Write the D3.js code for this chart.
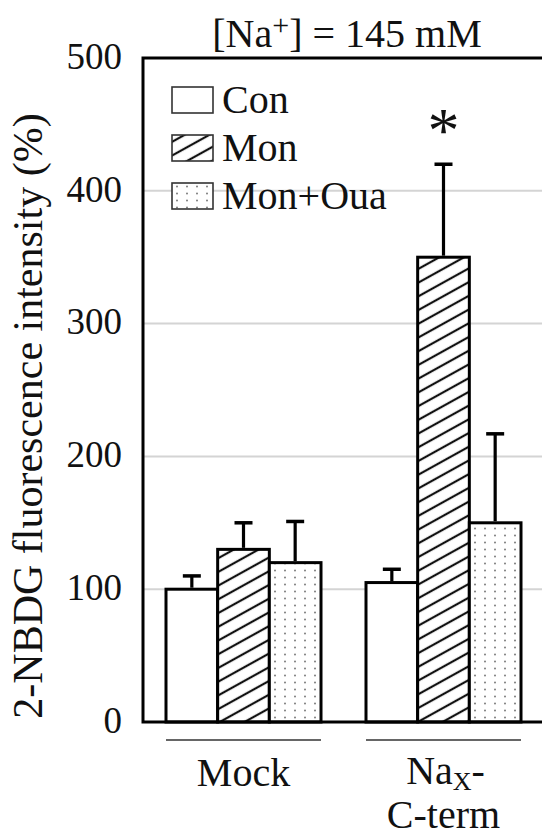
<!DOCTYPE html>
<html>
<head>
<meta charset="utf-8">
<script src="https://cdn.jsdelivr.net/npm/d3@7"></script>
<style>
  body { margin: 0; background: #fff; }
  svg text { font-family: "Liberation Serif", "DejaVu Serif", serif !important; fill: #111; }
</style>
</head>
<body>
<div id="chart"></div>
<script>
// DATA
var groups = ["Mock", "Nax-C-term"];
var series = ["Con", "Mon", "Mon+Oua"];
var means = [
  [100, 130, 120],   // Mock
  [105, 350, 150]    // Nax-C-term
];
var errors = [
  [10, 20, 31],
  [10, 70, 67]
];
var yTicks = [0, 100, 200, 300, 400, 500];

// DIMENSIONS
// (don't call these top/left - window.top is read only)
var W = 542, H = 836;
var plotL = 143, plotT = 58, plotB = 722, plotR = 543.5;
var serif = "'Liberation Serif', 'DejaVu Serif', serif";

var svg = d3.select("#chart").append("svg")
  .attr("width", W)
  .attr("height", H)
  .attr("font-family", serif);

// PATTERNS
var defs = svg.append("defs");
var hatch = defs.append("pattern")
  .attr("id", "hatch")
  .attr("patternUnits", "userSpaceOnUse")
  .attr("width", 12).attr("height", 12)
  .attr("patternTransform", "rotate(-29)");
hatch.append("rect").attr("width", 12).attr("height", 12).attr("fill", "#fff");
hatch.append("line")
  .attr("x1", 0).attr("x2", 12).attr("y1", 6).attr("y2", 6)
  .attr("stroke", "#111").attr("stroke-width", 2.2);

var dots = defs.append("pattern")
  .attr("id", "dots")
  .attr("patternUnits", "userSpaceOnUse")
  .attr("width", 10).attr("height", 7);
dots.append("rect").attr("width", 10).attr("height", 7).attr("fill", "#fff");
dots.append("circle").attr("cx", 5).attr("cy", 3.5).attr("r", 0.95).attr("fill", "#777");

var fills = { "Con": "#fff", "Mon": "url(#hatch)", "Mon+Oua": "url(#dots)" };

// SCALES
var y = d3.scaleLinear().domain([0, 500]).range([plotB, plotT]);

var x0 = d3.scaleBand()
  .domain(groups)
  .range([plotL + 0.5, plotR])
  .paddingInner(0.225)
  .paddingOuter(0.1125);

var x1 = d3.scaleBand()
  .domain(series)
  .range([0, x0.bandwidth()]);

// GRIDLINES
svg.append("g")
  .selectAll("line")
  .data(yTicks.filter(function(d) { return d > 0 && d < 500; }))
  .enter().append("line")
    .attr("x1", plotL).attr("x2", W)
    .attr("y1", function(d) { return y(d); })
    .attr("y2", function(d) { return y(d); })
    .attr("stroke", "#d4d4d4")
    .attr("stroke-width", 2);

// Y AXIS labels
var yAxis = d3.axisLeft(y)
  .tickValues(yTicks)
  .tickSize(0)
  .tickPadding(21);

var ya = svg.append("g")
  .attr("transform", "translate(" + plotL + ",0)")
  .call(yAxis)
  .attr("font-family", serif)
  .attr("font-size", 37);
ya.select(".domain").remove();
ya.selectAll("text")
  .attr("fill", "#111")
  .attr("dy", "0.28em");

// BARS
var rows = [];
groups.forEach(function(g, gi) {
  series.forEach(function(s, si) {
    rows.push({ group: g, series: s, value: means[gi][si], err: errors[gi][si] });
  });
});

var bars = svg.append("g");
bars.selectAll("rect")
  .data(rows)
  .enter().append("rect")
    .attr("x", function(d) { return x0(d.group) + x1(d.series); })
    .attr("y", function(d) { return y(d.value); })
    .attr("width", x1.bandwidth())
    .attr("height", function(d) { return y(0) - y(d.value); })
    .attr("fill", function(d) { return fills[d.series]; })
    .attr("stroke", "#000")
    .attr("stroke-width", 3);

// ERROR BARS (upper only)
var capW = 18;
var eb = svg.append("g").selectAll("g")
  .data(rows)
  .enter().append("g");
eb.append("line")
  .attr("x1", function(d) { return x0(d.group) + x1(d.series) + x1.bandwidth() / 2; })
  .attr("x2", function(d) { return x0(d.group) + x1(d.series) + x1.bandwidth() / 2; })
  .attr("y1", function(d) { return y(d.value) - 1.5; })
  .attr("y2", function(d) { return y(d.value + d.err); })
  .attr("stroke", "#000").attr("stroke-width", 3.2);
eb.append("line")
  .attr("x1", function(d) { return x0(d.group) + x1(d.series) + x1.bandwidth() / 2 - capW / 2; })
  .attr("x2", function(d) { return x0(d.group) + x1(d.series) + x1.bandwidth() / 2 + capW / 2; })
  .attr("y1", function(d) { return y(d.value + d.err); })
  .attr("y2", function(d) { return y(d.value + d.err); })
  .attr("stroke", "#000").attr("stroke-width", 3.5);

// FRAME
svg.append("path")
  .attr("d", "M" + W + "," + plotT + "H" + plotL + "V" + plotB + "H" + W)
  .attr("fill", "none")
  .attr("stroke", "#000")
  .attr("stroke-width", 3);

// SIGNIFICANCE
var sig = rows[4];
svg.append("text")
  .attr("x", x0(sig.group) + x1(sig.series) + x1.bandwidth() / 2)
  .attr("y", y(sig.value + sig.err) - 12)
  .attr("text-anchor", "middle")
  .attr("font-size", 64)
  .text("*");

// CATEGORY UNDERLINES & LABELS
groups.forEach(function(g) {
  svg.append("line")
    .attr("x1", x0(g)).attr("x2", x0(g) + x0.bandwidth())
    .attr("y1", 740).attr("y2", 740)
    .attr("stroke", "#333").attr("stroke-width", 1.6);
});
var cx0 = x0("Mock") + x0.bandwidth() / 2;
var cx1 = x0("Nax-C-term") + x0.bandwidth() / 2;
svg.append("text")
  .attr("x", cx0).attr("y", 786)
  .attr("text-anchor", "middle")
  .attr("font-size", 40)
  .text("Mock");
var nax = svg.append("text")
  .attr("x", cx1 + 2).attr("y", 784)
  .attr("text-anchor", "middle")
  .attr("font-size", 40);
nax.append("tspan").text("Na");
nax.append("tspan").attr("dy", 6).attr("font-size", 26).text("X");
nax.append("tspan").attr("dy", -6).text("-");
svg.append("text")
  .attr("x", cx1).attr("y", 828)
  .attr("text-anchor", "middle")
  .attr("font-size", 40)
  .text("C-term");

// TITLE
var title = svg.append("text")
  .attr("x", 347).attr("y", 47)
  .attr("text-anchor", "middle")
  .attr("font-size", 40);
title.append("tspan").text("[Na");
title.append("tspan").attr("dy", -12).attr("font-size", 30).text("+");
title.append("tspan").attr("dy", 12).text("] = 145 mM");

// Y LABEL
svg.append("text")
  .attr("transform", "translate(42," + 416 + ") rotate(-90)")
  .attr("text-anchor", "middle")
  .attr("font-size", 42)
  .text("2-NBDG fluorescence intensity (%)");

// LEGEND
var legend = svg.append("g").attr("transform", "translate(172,87)");
var li = legend.selectAll("g")
  .data(series)
  .enter().append("g")
    .attr("transform", function(d, i) { return "translate(0," + (i * 48) + ")"; });
li.append("rect")
  .attr("width", 41).attr("height", 26)
  .attr("fill", function(d) { return fills[d]; })
  .attr("stroke", "#333").attr("stroke-width", 1.6);
li.append("text")
  .attr("x", 50).attr("y", 26)
  .attr("font-size", 40)
  .text(function(d) { return d; });
</script>
</body>
</html>
